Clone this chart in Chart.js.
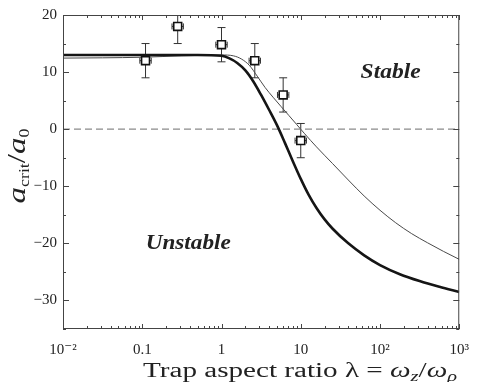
<!DOCTYPE html>
<html>
<head>
<meta charset="utf-8">
<script src="https://cdn.jsdelivr.net/npm/chart.js"></script>
<style>
    html, body { margin: 0; padding: 0; background: #fff; }
    #wrap { width: 481px; height: 382px; position: relative; }
</style>
</head>
<body>
<div id="wrap"><canvas id="chart"></canvas></div>
<script>
// axis ticks
const xTickValues = [0.01, 0.1, 1, 10, 100, 1000];
const xTickLabels = ['10⁻²', '0.1', '1', '10', '10²', '10³'];
const yTickValues = [-30, -20, -10, 0, 10, 20];
const yTickLabels = ['−30', '−20', '−10', '0', '10', '20'];

// thick curve
const lambdaThick = [0.01, 0.1, 0.5, 1, 1.26, 1.58, 2.0, 2.51, 3.16, 3.98, 5.01, 6.31, 7.94, 10, 12.6, 15.8, 20.0, 25.1, 39.8, 63.1, 100, 178, 316, 562, 1000];
const critThick   = [13.0, 13.0, 13.0, 12.85, 12.4, 11.6, 10.3, 8.4, 6.0, 3.4, 0.7, -2.4, -5.6, -8.7, -11.5, -13.8, -15.8, -17.4, -20.0, -22.1, -23.8, -25.4, -26.6, -27.6, -28.5];

// thin curve
const lambdaThin = [0.01, 0.0316, 0.1, 0.316, 0.631, 1, 1.41, 1.78, 2.24, 2.82, 3.55, 4.47, 5.62, 7.08, 8.91, 11.2, 15.8, 25.1, 39.8, 63.1, 100, 158, 251, 398, 631, 1000];
const critThin   = [12.45, 12.5, 12.6, 12.85, 12.95, 13.0, 12.85, 12.3, 11.2, 9.3, 7.3, 5.6, 4.0, 2.4, 0.8, -0.8, -3.1, -6.0, -8.9, -11.7, -14.2, -16.4, -18.3, -19.9, -21.4, -22.8];

// measured points
const expLambda = [0.11, 0.28, 1.0, 2.63, 6.0, 10.0];
const expCrit   = [12, 18, 14.8, 12, 6, -2];
const expErrY   = [3, 3, 3, 3, 3, 3];
const expErrXFactor = 1.18;

const toXY = (xs, ys) => xs.map((x, i) => ({ x: x, y: ys[i] }));

const serif = '"Liberation Serif", "DejaVu Serif", serif';

// draws mixed-font text centred on cx, stretched to the given width
function drawRich(ctx, parts, cx, y, width) {
    let w = 0;
    parts.forEach(p => { ctx.font = p.font; w += ctx.measureText(p.text).width; });
    const k = width ? width / w : 1;
    ctx.save();
    ctx.translate(cx - w * k / 2, y);
    ctx.scale(k, 1);
    let x = 0;
    parts.forEach(p => {
        ctx.font = p.font;
        ctx.fillText(p.text, x, p.dy || 0);
        x += ctx.measureText(p.text).width;
    });
    ctx.restore();
}

const framePlugin = {
    id: 'frame',
    beforeDatasetsDraw(chart) {
        const { ctx, chartArea: a, scales: { x, y } } = chart;
        ctx.save();
        ctx.beginPath();
        ctx.rect(a.left, a.top, a.right - a.left, a.bottom - a.top);
        ctx.clip();
        ctx.strokeStyle = '#333';
        ctx.lineWidth = 1;
        expLambda.forEach((lam, i) => {
            const px = x.getPixelForValue(lam);
            const py = y.getPixelForValue(expCrit[i]);
            const t = y.getPixelForValue(expCrit[i] + expErrY[i]);
            const b = y.getPixelForValue(expCrit[i] - expErrY[i]);
            const l = x.getPixelForValue(lam / expErrXFactor);
            const r = x.getPixelForValue(lam * expErrXFactor);
            ctx.beginPath();
            ctx.moveTo(px, t); ctx.lineTo(px, b);
            ctx.moveTo(px - 4, t); ctx.lineTo(px + 4, t);
            ctx.moveTo(px - 4, b); ctx.lineTo(px + 4, b);
            ctx.moveTo(l, py); ctx.lineTo(r, py);
            ctx.moveTo(l, py - 3); ctx.lineTo(l, py + 3);
            ctx.moveTo(r, py - 3); ctx.lineTo(r, py + 3);
            ctx.stroke();
        });
        ctx.restore();
    },
    afterDraw(chart) {
        const { ctx, chartArea: a, scales: { x, y } } = chart;
        ctx.save();
        ctx.strokeStyle = '#444';
        ctx.lineWidth = 1;
        ctx.strokeRect(a.left + 0.5, a.top + 0.5, a.right - a.left - 1, a.bottom - a.top - 1);

        // inward ticks
        ctx.beginPath();
        for (let e = -2; e <= 3; e++) {
            for (let k = 1; k <= 9; k++) {
                const v = k * Math.pow(10, e);
                if (v > 1000) break;
                const px = Math.round(x.getPixelForValue(v)) + 0.5;
                const len = k === 1 ? 5 : 3;
                ctx.moveTo(px, a.bottom); ctx.lineTo(px, a.bottom - len);
                ctx.moveTo(px, a.top); ctx.lineTo(px, a.top + len);
            }
        }
        for (let v = -35; v <= 20; v += 5) {
            const py = Math.round(y.getPixelForValue(v)) + 0.5;
            const len = v % 10 === 0 ? 6 : 3;
            ctx.moveTo(a.left, py); ctx.lineTo(a.left + len, py);
            ctx.moveTo(a.right, py); ctx.lineTo(a.right - len, py);
        }
        ctx.stroke();

        // region labels
        ctx.fillStyle = '#222';
        ctx.textAlign = 'left';
        ctx.textBaseline = 'alphabetic';
        const bi = 'italic bold 20px ' + serif;
        drawRich(ctx, [{ text: 'Stable', font: bi }], x.getPixelForValue(136), y.getPixelForValue(8.9), 60);
        drawRich(ctx, [{ text: 'Unstable', font: bi }], x.getPixelForValue(0.38), y.getPixelForValue(-20.9), 85);

        // axis titles
        const up = '20px ' + serif, it = 'italic 20px ' + serif, sub = 'italic 14px ' + serif;
        drawRich(ctx, [
            { text: 'Trap aspect ratio λ = ', font: up },
            { text: 'ω', font: it },
            { text: 'z', font: sub, dy: 4 },
            { text: '/', font: up },
            { text: 'ω', font: it },
            { text: 'ρ', font: sub, dy: 4 }
        ], 300, 377, 314);

        ctx.translate(25, 166);
        ctx.rotate(-Math.PI / 2);
        drawRich(ctx, [
            { text: 'a', font: 'italic 26px ' + serif },
            { text: 'crit', font: '14px ' + serif, dy: 4 },
            { text: '/', font: '26px ' + serif },
            { text: 'a', font: 'italic 26px ' + serif },
            { text: '0', font: '14px ' + serif, dy: 4 }
        ], 0, 0, 75);
        ctx.restore();
    }
};

new Chart(document.getElementById('chart'), {
    type: 'scatter',
    data: {
        datasets: [
            {
                label: 'measured',
                data: toXY(expLambda, expCrit),
                pointStyle: 'rect',
                pointRadius: 5.6,
                pointBackgroundColor: '#fff',
                pointBorderColor: '#111',
                pointBorderWidth: 1.6,
                showLine: false,
                order: 0
            },
            {
                label: 'thick',
                data: toXY(lambdaThick, critThick),
                showLine: true,
                borderColor: '#151515',
                borderWidth: 2.6,
                pointRadius: 0,
                cubicInterpolationMode: 'monotone',
                order: 1
            },
            {
                label: 'thin',
                data: toXY(lambdaThin, critThin),
                showLine: true,
                borderColor: '#4a4a4a',
                borderWidth: 1,
                pointRadius: 0,
                cubicInterpolationMode: 'monotone',
                order: 2
            },
            {
                label: 'zero',
                data: toXY([0.01, 1000], [0, 0]),
                showLine: true,
                borderColor: '#8a8a8a',
                borderWidth: 1.2,
                borderDash: [7, 4],
                pointRadius: 0,
                order: 3
            }
        ]
    },
    options: {
        responsive: true,
        maintainAspectRatio: false,
        animation: false,
        devicePixelRatio: 1,
        layout: { padding: { top: 13, right: 13, left: 0, bottom: 0 } },
        plugins: { legend: { display: false }, tooltip: { enabled: false } },
        scales: {
            x: {
                type: 'logarithmic',
                min: 0.01,
                max: 1000,
                grid: { display: false, drawTicks: false },
                border: { display: false },
                afterBuildTicks: s => { s.ticks = xTickValues.map(v => ({ value: v })); },
                afterFit: s => { s.height = 53; },
                ticks: {
                    autoSkip: false,
                    maxRotation: 0,
                    padding: 12,
                    color: '#222',
                    font: { family: serif, size: 15 },
                    callback: (v, i) => xTickLabels[i]
                }
            },
            y: {
                min: -35,
                max: 20,
                grid: { display: false, drawTicks: false },
                border: { display: false },
                afterBuildTicks: s => { s.ticks = yTickValues.map(v => ({ value: v })); },
                afterFit: s => { s.width = 63; },
                ticks: {
                    padding: 6,
                    color: '#222',
                    font: { family: serif, size: 15 },
                    callback: (v, i) => yTickLabels[i]
                }
            }
        }
    },
    plugins: [framePlugin]
});
</script>
</body>
</html>
